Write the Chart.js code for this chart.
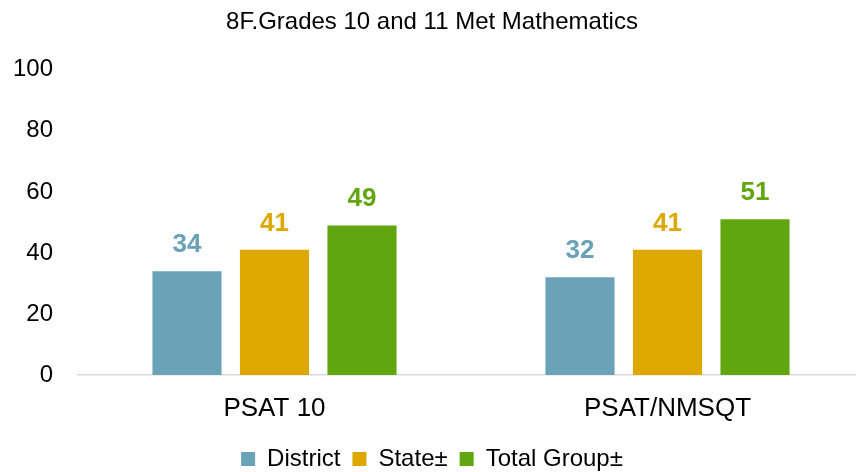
<!DOCTYPE html>
<html>
<head>
<meta charset="utf-8">
<script src="https://cdn.jsdelivr.net/npm/chart.js@4"></script>
<style>
  html, body { margin: 0; padding: 0; background: #fff; overflow: hidden; }
  #wrap { width: 864px; height: 472px; }
</style>
</head>
<body>
<div id="wrap"><canvas id="chart"></canvas></div>
<script>
// chart data
const titleText = '8F.Grades 10 and 11 Met Mathematics';
const categories = ['PSAT 10', 'PSAT/NMSQT'];
const seriesNames = ['District', 'State±', 'Total Group±'];
const districtValues = [34, 32];
const stateValues = [41, 41];
const totalGroupValues = [49, 51];
const yTicks = [0, 20, 40, 60, 80, 100];

const colors = ['#6AA2B8', '#DDA900', '#62A60F'];
const fontFamily = '"Liberation Sans", Arial, sans-serif';

// draws the value on top of every bar
const valueLabels = {
    id: 'valueLabels',
    afterDatasetsDraw(chart) {
        const ctx = chart.ctx;
        ctx.save();
        ctx.font = 'bold 26px ' + fontFamily;
        ctx.textAlign = 'center';
        ctx.textBaseline = 'alphabetic';
        chart.data.datasets.forEach((ds, i) => {
            const meta = chart.getDatasetMeta(i);
            ctx.fillStyle = colors[i];
            meta.data.forEach((bar, j) => {
                ctx.fillText(String(ds.data[j]), bar.x, bar.y - 19);
            });
        });
        ctx.restore();
    }
};

const ctx = document.getElementById('chart').getContext('2d');
const chart = new Chart(ctx, {
    type: 'bar',
    data: {
        labels: categories,
        datasets: [districtValues, stateValues, totalGroupValues].map((vals, i) => ({
            label: seriesNames[i],
            data: vals,
            backgroundColor: colors[i],
            categoryPercentage: 0.668,
            barPercentage: 0.79
        }))
    },
    options: {
        responsive: true,
        maintainAspectRatio: false,
        animation: false,
        layout: { padding: { left: 0, right: 0, top: 0, bottom: -9 } },
        scales: {
            x: {
                grid: { display: false, drawTicks: false },
                border: { display: true, color: '#D9D9D9', width: 1.5 },
                ticks: { color: '#000', font: { family: fontFamily, size: 26 }, padding: 18 },
                afterFit: (scale) => { scale.height = 60; }
            },
            y: {
                min: 0,
                max: 100,
                afterBuildTicks: (scale) => { scale.ticks = yTicks.map(v => ({ value: v })); },
                grid: { display: false, drawTicks: false },
                border: { display: false },
                ticks: { color: '#000', font: { family: fontFamily, size: 24 }, padding: 25 },
                afterFit: (scale) => { scale.width = 78; }
            }
        },
        plugins: {
            title: {
                display: true,
                text: titleText,
                color: '#000',
                font: { family: fontFamily, size: 24, weight: 'normal' },
                padding: { top: 8, bottom: 33 }
            },
            legend: {
                position: 'bottom',
                labels: {
                    color: '#000',
                    font: { family: fontFamily, size: 24 },
                    boxWidth: 14,
                    boxHeight: 14,
                    padding: 12
                }
            },
            tooltip: { enabled: false }
        }
    },
    plugins: [valueLabels]
});
</script>
</body>
</html>
